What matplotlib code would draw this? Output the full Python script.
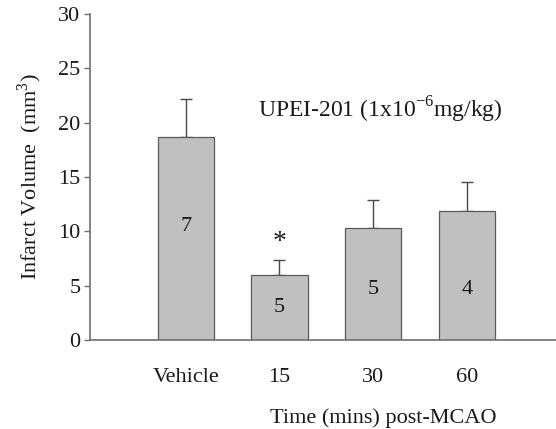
import matplotlib
matplotlib.use('Agg')
import matplotlib.pyplot as plt

# Values
groups = ['Vehicle', '15', '30', '60']
means = [18.7, 6.0, 10.3, 11.9]
sem_up = [3.5, 1.4, 2.55, 2.6]
n_labels = ['7', '5', '5', '4']
n_label_y = [10.4, 3.0, 4.6, 4.6]

plt.rcParams['font.family'] = ['Liberation Serif', 'DejaVu Serif']

fig = plt.figure(figsize=(5.56, 4.29), dpi=100)
ax = fig.add_axes([0.162, 0.2075, 0.838, 0.76])

x = list(range(len(groups)))
ax.bar(x, means, width=0.6, color='#c0c0c0', edgecolor='#5a5a5a', linewidth=0.9, zorder=2)
ax.errorbar(x, means, yerr=[[0] * len(means), sem_up], fmt='none',
            ecolor='#4a4a4a', elinewidth=1.0, capsize=4, capthick=1.0, zorder=1)

# group sizes written inside the bars
for xi, lab, ly in zip(x, n_labels, n_label_y):
    ax.text(xi, ly, lab, ha='center', va='center', fontsize=16, color='#1a1a1a')

# significance marker over the 15 min group
ax.text(1.0, 9.0, '*', ha='center', va='center', fontsize=20, color='#1a1a1a')

ax.text(2.08, 21.2, 'UPEI-201 (1x10$^{\\mathregular{-6}}$mg/kg)', ha='center', va='center',
        fontsize=17, color='#1a1a1a')

ax.set_xlim(-1.02, 3.95)
ax.set_ylim(0, 30)
ax.set_yticks([0, 5, 10, 15, 20, 25, 30])
ax.set_xticks(x)
ax.set_xticklabels(groups)

for side in ('top', 'right'):
    ax.spines[side].set_visible(False)
for side in ('left', 'bottom'):
    ax.spines[side].set_color('#707070')
    ax.spines[side].set_linewidth(1.2)

ax.tick_params(axis='y', direction='out', length=4, width=1.0, color='#707070',
               labelsize=16, labelcolor='#1a1a1a', pad=3)
ax.tick_params(axis='x', length=0, labelsize=16, labelcolor='#1a1a1a', pad=20)

ax.set_ylabel('Infarct Volume  (mm$^{\\mathregular{3}}$)', fontsize=16, color='#1a1a1a', labelpad=10)
ax.set_xlabel('Time (mins) post-MCAO', fontsize=16, color='#1a1a1a')
ax.xaxis.set_label_coords(0.63, -0.21)

fig.savefig('out.png', dpi=100)
